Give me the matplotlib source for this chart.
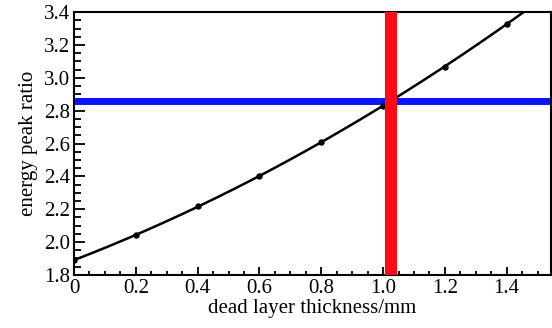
import matplotlib.pyplot as plt
import numpy as np

thickness_mm = [0.0, 0.2, 0.4, 0.6, 0.8, 1.0, 1.2, 1.4]
peak_ratio = [1.89, 2.04, 2.22, 2.40, 2.61, 2.83, 3.065, 3.33]
measured_ratio = 2.86
derived_thickness = 1.027

plt.rcParams["font.family"] = ["Liberation Serif", "DejaVu Serif"]

fig = plt.figure(figsize=(5.52, 3.28), dpi=100)
ax = fig.add_axes([0.134, 0.162, 0.864, 0.801])

# quadratic fit through the calibration points
coef = np.polyfit(thickness_mm, peak_ratio, 2)
xs = np.linspace(0, 1.55, 300)
ax.plot(xs, np.polyval(coef, xs), color="black", lw=1.8, zorder=3)
ax.plot(thickness_mm, peak_ratio, "o", color="black", ms=3.6, zorder=4)

ax.axhline(measured_ratio, color="#0a14ff", lw=5, zorder=2)
ax.axvline(derived_thickness, color="#ff0a16", lw=8.7, zorder=5)

ax.set_xlim(0, 1.543)
ax.set_ylim(1.8, 3.4)
ax.set_xticks(np.arange(0, 1.41, 0.2))
ax.set_xticklabels(["0", "0.2", "0.4", "0.6", "0.8", "1.0", "1.2", "1.4"])
ax.set_xticks(np.arange(0, 1.55, 0.05), minor=True)
ax.set_yticks(np.arange(1.8, 3.41, 0.2))
ax.set_yticklabels([f"{v:.1f}" for v in np.arange(1.8, 3.41, 0.2)])
ax.set_yticks(np.arange(1.8, 3.41, 0.05), minor=True)

ax.tick_params(axis="both", which="both", direction="in", top=False, right=False,
               labelsize=15, width=1.3)
ax.tick_params(axis="y", which="major", length=8, pad=3)
ax.tick_params(axis="y", which="minor", length=5)
ax.tick_params(axis="x", which="major", length=6, pad=3)
ax.tick_params(axis="x", which="minor", length=3)
for s in ax.spines.values():
    s.set_linewidth(1.5)

ax.set_xlabel("dead layer thickness/mm", fontsize=15, labelpad=1)
ax.set_ylabel("energy peak ratio", fontsize=15, labelpad=4)

fig.savefig("out.png", dpi=100)
